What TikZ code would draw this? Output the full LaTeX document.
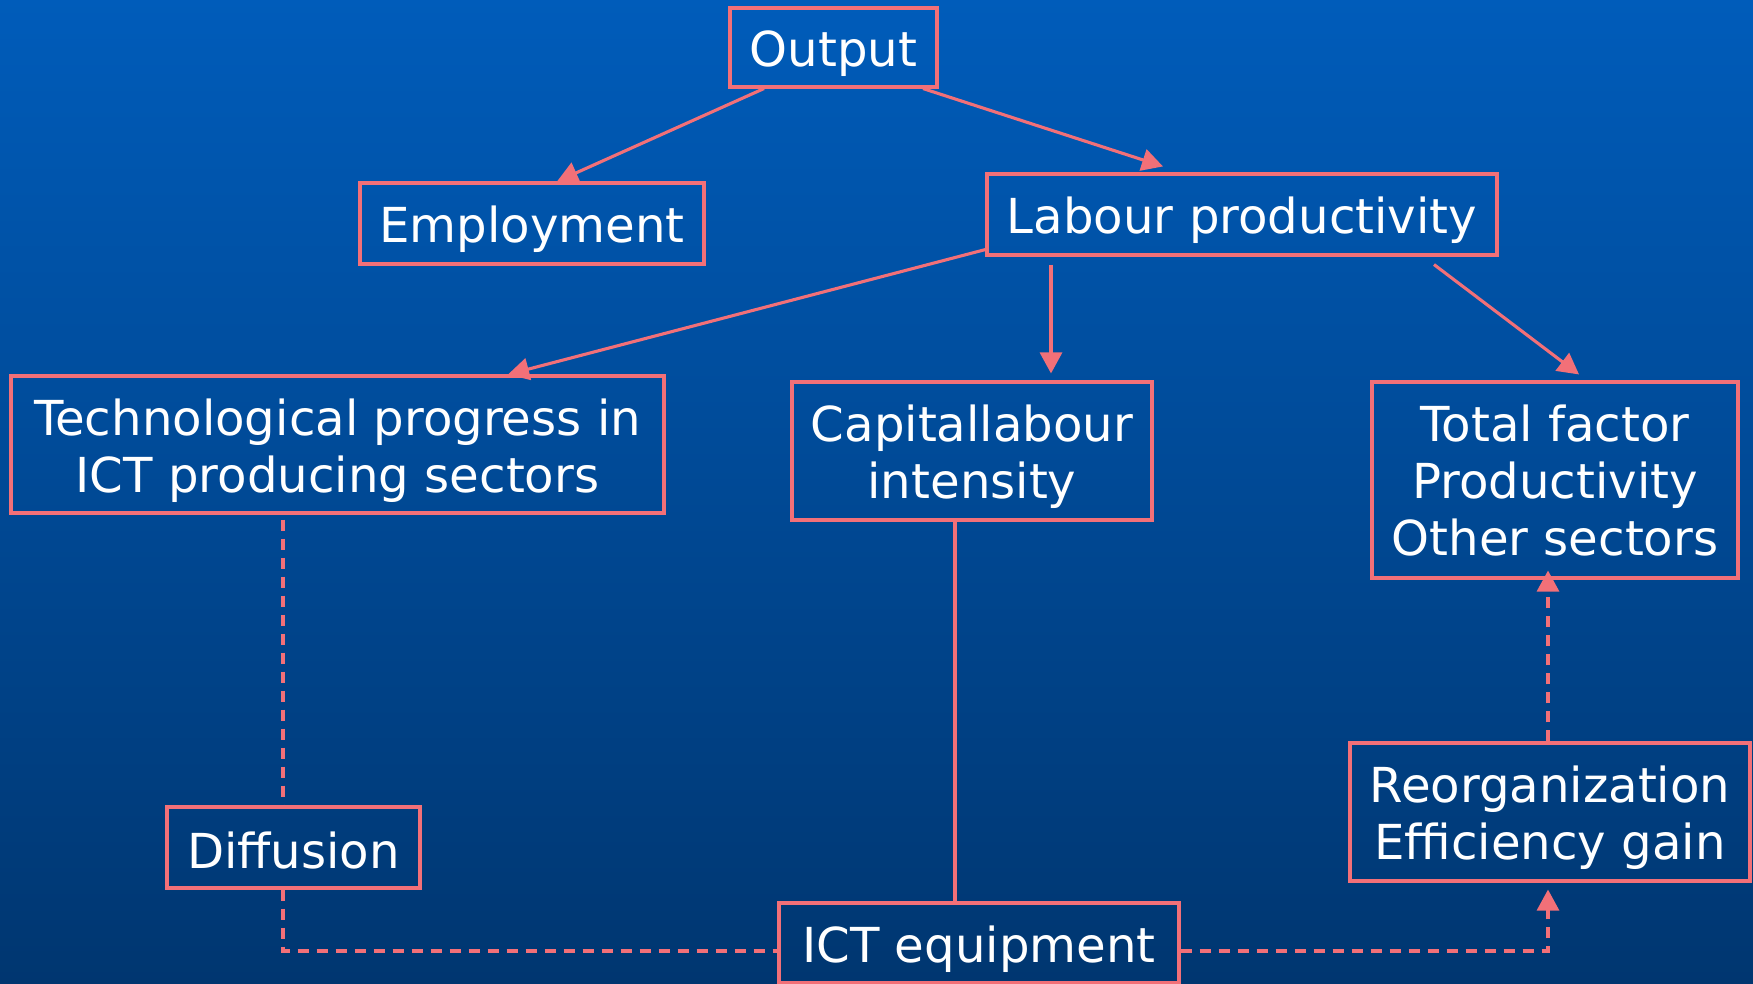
\documentclass[tikz,border=0pt]{standalone}
\usepackage{fontspec}
\setmainfont{DejaVu Sans}
\usetikzlibrary{arrows.meta,calc}
\definecolor{edge}{RGB}{242,112,120}
\definecolor{bgtop}{RGB}{0,92,186}
\definecolor{bgbot}{RGB}{0,54,112}
\begin{document}
\begin{tikzpicture}[x=1pt,y=-1pt,
  box/.style={draw=edge,line width=3.1pt,inner sep=0pt},
  lbl/.style={text=white,align=center,inner sep=0pt,yshift=-6pt,
    font=\fontsize{48.2}{57}\selectfont},
  arr/.style={draw=edge,line width=3.1pt,-{Triangle[length=21pt,width=22pt]}},
  link/.style={draw=edge,line width=3.1pt},
  dashlink/.style={draw=edge,line width=3.1pt,dash pattern=on 11pt off 8pt}
]
\useasboundingbox (0,0) rectangle (1753,984);
\shade[top color=bgtop,bottom color=bgbot] (0,0) rectangle (1753,984);

\node[box,minimum width=207pt,minimum height=79pt,label={[lbl]center:Output}] (out) at (833.5,47.5) {};
\node[box,minimum width=344pt,minimum height=81pt,label={[lbl]center:Employment}] (emp) at (532,223.5) {};
\node[box,minimum width=510pt,minimum height=81pt,label={[lbl]center:Labour productivity}] (lab) at (1242,214.5) {};
\node[box,minimum width=653pt,minimum height=137pt,label={[lbl]center:{Technological progress in\\ICT producing sectors}}] (tech) at (337.5,444.5) {};
\node[box,minimum width=360pt,minimum height=138pt,label={[lbl]center:{Capitallabour\\intensity}}] (cap) at (972,451) {};
\node[box,minimum width=366pt,minimum height=196pt,label={[lbl,yshift=5pt]center:{Total factor\\Productivity\\Other sectors}}] (tfp) at (1555,480) {};
\node[box,minimum width=400pt,minimum height=138pt,label={[lbl]center:{Reorganization\\Efficiency gain}}] (reo) at (1550,812) {};
\node[box,minimum width=253pt,minimum height=81pt,label={[lbl,yshift=3pt]center:Diffusion}] (dif) at (293.5,847.5) {};
\node[box,minimum width=400pt,minimum height=80pt,label={[lbl]center:ICT equipment}] (ict) at (979,943) {};

\draw[arr] ([xshift=-69.5pt]out.south) -- ([xshift=25pt]emp.north);
\draw[arr] ([xshift=89.5pt]out.south) -- ([xshift=-79pt,yshift=6pt]lab.north);
\draw[arr] ([yshift=7pt]lab.south west) -- ([xshift=170.5pt]tech.north);
\draw[arr] ([xshift=-191pt,yshift=-8pt]lab.south) -- ([xshift=79pt,yshift=7pt]cap.north);
\draw[arr] ([xshift=192pt,yshift=-8pt]lab.south) -- ([xshift=24pt,yshift=6pt]tfp.north);

\draw[dashlink] ([xshift=-54.5pt,yshift=-5pt]tech.south) -- ([xshift=-10.5pt]dif.north);
\draw[dashlink] ([xshift=-10.5pt]dif.south) |- ([yshift=-8pt]ict.west);
\draw[link] ([xshift=-17pt]cap.south) -- ([xshift=-24pt]ict.north);
\draw[dashlink,-{Triangle[length=21pt,width=22pt]}] ([yshift=-8pt]ict.east) -| ([xshift=-2pt,yshift=-7pt]reo.south);
\draw[dashlink,-{Triangle[length=21pt,width=22pt]}] ([xshift=-2pt]reo.north) -- ([xshift=-7pt,yshift=9pt]tfp.south);
\end{tikzpicture}
\end{document}
